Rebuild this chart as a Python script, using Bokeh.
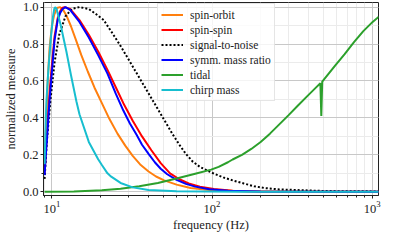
from bokeh.plotting import figure
from bokeh.models import Range1d, SingleIntervalTicker, PrintfTickFormatter, FixedTicker
from bokeh.embed import file_html
from bokeh.resources import INLINE

# ---- data (frequency in Hz, normalized measure) ----
freq_spin_orbit = [9.0, 9.226, 9.414, 9.670, 10.0, 10.342, 10.766, 11.208, 11.669, 12.313,
                   13.168, 14.083, 15.264, 16.770, 18.427, 20.507, 22.837, 25.667, 28.701,
                   31.955, 35.563, 40.139, 44.690, 50.227, 60.034, 73.42, 96.06, 153.74, 1100]
norm_spin_orbit = [0.12, 0.40, 0.60, 0.78, 0.90, 0.96, 0.995, 1.0, 0.99, 0.955,
                   0.895, 0.825, 0.74, 0.65, 0.565, 0.48, 0.395, 0.315, 0.25,
                   0.195, 0.148, 0.11, 0.083, 0.062, 0.039, 0.021, 0.01, 0.003, 0.0]

freq_spin_spin = [9.0, 9.165, 9.289, 9.503, 9.709, 9.933, 10.383, 10.867, 11.284, 11.669,
                  11.987, 12.993, 14.860, 16.997, 19.443, 22.232, 25.087, 27.929, 31.955,
                  36.532, 41.788, 47.791, 54.65, 62.50, 71.48, 83.98, 102.72, 134.40, 201.09, 1100]
norm_spin_spin = [0.10, 0.22, 0.30, 0.44, 0.56, 0.66, 0.84, 0.94, 0.98, 0.997,
                  1.0, 0.99, 0.93, 0.85, 0.76, 0.66, 0.565, 0.48, 0.385,
                  0.30, 0.225, 0.155, 0.10, 0.068, 0.045, 0.027, 0.015, 0.006, 0.002, 0.0]

freq_snr = [9.0, 9.289, 9.801, 10.383, 11.104, 12.149, 13.293, 14.860, 16.997, 19.004,
            21.066, 24.423, 26.827, 29.482, 32.387, 35.563, 39.076, 42.925, 47.155, 51.79,
            56.897, 62.50, 68.66, 75.42, 83.98, 98.67, 117.50, 134.40, 157.92, 182.98,
            214.98, 262.98, 377.77, 514.5, 1100]
norm_snr = [0.07, 0.27, 0.50, 0.70, 0.85, 0.95, 0.99, 1.0, 0.99, 0.96,
            0.93, 0.845, 0.79, 0.73, 0.67, 0.61, 0.55, 0.49, 0.43, 0.37,
            0.31, 0.255, 0.205, 0.165, 0.135, 0.105, 0.078, 0.062, 0.045, 0.03,
            0.02, 0.013, 0.008, 0.004, 0.002]

freq_mass_ratio = [9.0, 9.165, 9.289, 9.503, 9.709, 9.933, 10.383, 10.867, 11.284, 11.669,
                   12.149, 12.993, 14.860, 16.997, 19.443, 22.232, 25.087, 27.929, 30.693,
                   33.718, 36.532, 40.139, 43.916, 47.791, 52.491, 60.034, 68.66, 78.51,
                   96.06, 125.66, 201.09, 1100]
norm_mass_ratio = [0.09, 0.20, 0.27, 0.40, 0.52, 0.62, 0.82, 0.93, 0.97, 0.99,
                   1.0, 0.985, 0.92, 0.835, 0.74, 0.64, 0.53, 0.44, 0.37,
                   0.31, 0.255, 0.205, 0.16, 0.125, 0.095, 0.065, 0.043, 0.028,
                   0.014, 0.006, 0.002, 0.0]

freq_tidal = [9.0, 13.710, 20.507, 26.827, 35.09, 45.89, 60.034, 78.51, 98.67, 109.9,
              125.66, 134.4, 153.74, 175.8, 201.09, 229.9, 262.98, 300.7, 343.95, 393.3,
              449.88, 474.7, 481.1, 487.6, 588.4, 673.0, 769.7, 880.3, 1006.7, 1100]
norm_tidal = [0.0, 0.002, 0.008, 0.017, 0.03, 0.048, 0.072, 0.098, 0.12, 0.135,
              0.16, 0.175, 0.2, 0.232, 0.27, 0.315, 0.365, 0.415, 0.467, 0.518,
              0.568, 0.588, 0.41, 0.597, 0.685, 0.745, 0.81, 0.87, 0.92, 0.948]

freq_chirp = [9.0, 9.165, 9.251, 9.503, 9.840, 10.163, 10.342, 10.481, 10.694, 10.911,
              11.360, 12.313, 13.168, 14.216, 14.860, 16.997, 19.443, 20.507, 22.232,
              23.459, 26.827, 31.955, 40.139, 60.03, 153.7, 1100]
norm_chirp = [0.15, 0.40, 0.50, 0.66, 0.83, 0.95, 0.99, 1.0, 0.99, 0.96,
              0.90, 0.76, 0.63, 0.49, 0.42, 0.27, 0.176, 0.145, 0.10,
              0.082, 0.048, 0.024, 0.01, 0.003, 0.0, 0.0]

x_major_ticks = [10, 100, 1000]
y_tick_interval = 0.2

FONT = "Liberation Serif"
W, H = 383, 234
BL, BR, BT, BB = 38, 5, 2, 36
FW, FH = W - BL - BR, H - BT - BB

p = figure(width=W, height=H, x_axis_type="log",
           x_range=Range1d(8.86, 1095), y_range=Range1d(-0.02, 1.025),
           output_backend="svg", toolbar_location=None,
           min_border_left=BL, min_border_right=BR, min_border_top=BT, min_border_bottom=BB,
           x_axis_label="frequency (Hz)", y_axis_label="normalized measure")

p.line(freq_spin_orbit, norm_spin_orbit, color="#ff7f0e", line_width=2, legend_label="spin-orbit")
p.line(freq_spin_spin, norm_spin_spin, color="#ff0000", line_width=2, legend_label="spin-spin")
p.line(freq_snr, norm_snr, color="#000000", line_width=2, line_dash="2 2", legend_label="signal-to-noise")
p.line(freq_mass_ratio, norm_mass_ratio, color="#0000ff", line_width=2, legend_label="symm. mass ratio")
p.line(freq_tidal, norm_tidal, color="#2ca02c", line_width=2, legend_label="tidal")
p.line(freq_chirp, norm_chirp, color="#17becf", line_width=2, legend_label="chirp mass")

minor = [m * 10 ** k for k in range(0, 4) for m in range(2, 10)]
p.xaxis.ticker = FixedTicker(ticks=x_major_ticks, minor_ticks=minor)
p.yaxis.ticker = SingleIntervalTicker(interval=y_tick_interval, num_minor_ticks=2)
p.yaxis.formatter = PrintfTickFormatter(format="%.1f")

for ax in (p.xaxis[0], p.yaxis[0]):
    ax.axis_label_text_font = FONT
    ax.axis_label_text_font_style = "normal"
    ax.axis_label_text_font_size = "12.5px"
    ax.axis_label_text_color = "#222222"
    ax.major_label_text_font = FONT
    ax.major_label_text_font_size = "12.5px"
    ax.major_label_text_color = "#222222"
    ax.axis_line_color = "#222222"
    ax.major_tick_line_color = "#222222"
    ax.minor_tick_line_color = "#222222"
    ax.major_tick_in = 0
    ax.major_tick_out = 3
    ax.minor_tick_in = 0
    ax.minor_tick_out = 2
    ax.axis_label_standoff = 2
    ax.major_label_standoff = 2

p.outline_line_color = "#222222"
p.outline_line_width = 1

for g in (p.xgrid[0], p.ygrid[0]):
    g.grid_line_color = "#c8c8c8"
    g.grid_line_width = 1
    g.minor_grid_line_color = "#ebebeb"
    g.minor_grid_line_width = 1

leg = p.legend[0]
leg_h = 6 * 15 + 2 * 3 + 2
leg.location = (int(round(0.336 * FW)), FH - 4 - leg_h)
leg.label_text_font = FONT
leg.label_text_font_size = "11.5px"
leg.label_text_color = "#222222"
leg.glyph_width = 22
leg.glyph_height = 15
leg.label_height = 15
leg.spacing = 0
leg.padding = 3
leg.margin = 0
leg.label_standoff = 7
leg.border_line_color = "#cccccc"
leg.background_fill_alpha = 0.8

open("out.html", "w").write(file_html(p, INLINE))
